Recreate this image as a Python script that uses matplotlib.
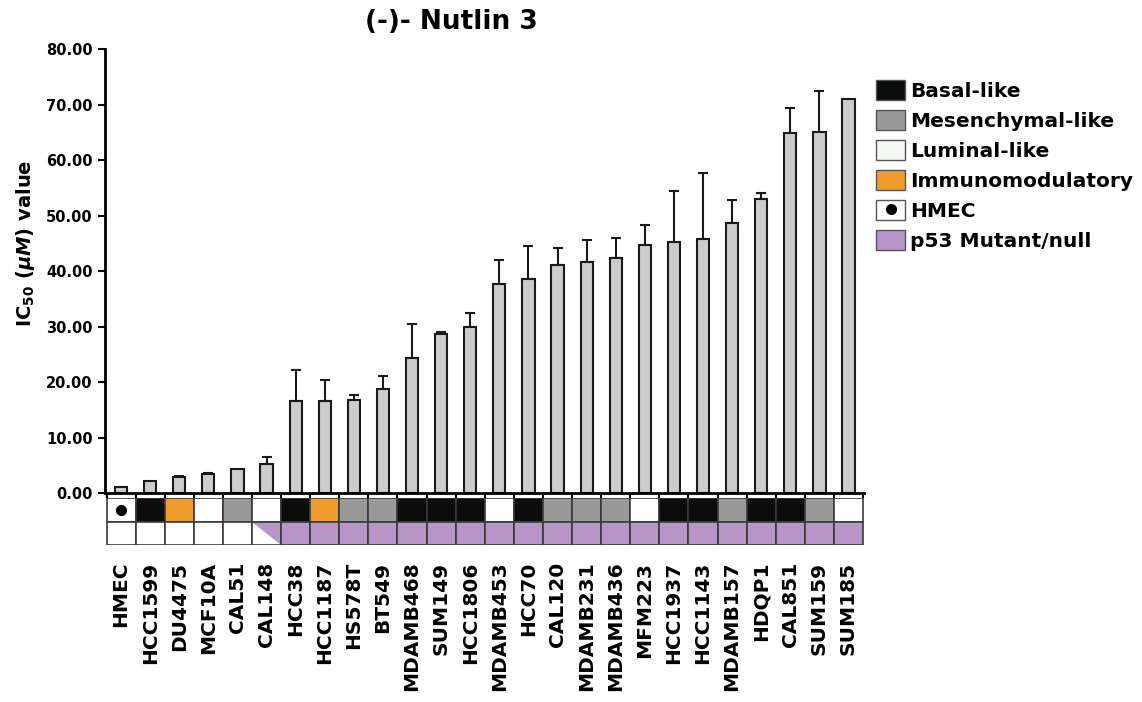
import matplotlib
matplotlib.use("Agg")
import matplotlib.pyplot as plt
import numpy as np
from matplotlib.patches import Rectangle, Polygon, Patch
from matplotlib.lines import Line2D
from matplotlib.legend_handler import HandlerTuple

plt.rcParams["font.family"] = "DejaVu Sans"
plt.rcParams["font.weight"] = "bold"
plt.rcParams["mathtext.fontset"] = "custom"
plt.rcParams["mathtext.rm"] = "DejaVu Sans:bold"
plt.rcParams["mathtext.it"] = "DejaVu Sans:bold:italic"
plt.rcParams["mathtext.bf"] = "DejaVu Sans:bold"

# cell lines, IC50 values and upper error
cell_lines = ["HMEC", "HCC1599", "DU4475", "MCF10A", "CAL51", "CAL148", "HCC38",
              "HCC1187", "HS578T", "BT549", "MDAMB468", "SUM149", "HCC1806",
              "MDAMB453", "HCC70", "CAL120", "MDAMB231", "MDAMB436", "MFM223",
              "HCC1937", "HCC1143", "MDAMB157", "HDQP1", "CAL851", "SUM159", "SUM185"]
ic50 = [1.0, 2.1, 2.8, 3.4, 4.3, 5.2, 16.5, 16.5, 16.7, 18.8, 24.3, 28.7, 29.9,
        37.7, 38.6, 41.1, 41.7, 42.3, 44.6, 45.3, 45.8, 48.6, 52.9, 64.8, 65.0, 71.0]
ic50_err = [0.0, 0.0, 0.2, 0.2, 0.0, 1.2, 5.6, 3.8, 1.0, 2.3, 6.2, 0.4, 2.6,
            4.3, 5.9, 3.1, 3.9, 3.7, 3.6, 9.2, 11.8, 4.2, 1.1, 4.5, 7.5, 0.0]

# subtype row (H=HMEC, B=basal, M=mesenchymal, L=luminal, I=immunomodulatory)
subtype = ["H", "B", "I", "L", "M", "L", "B", "I", "M", "M", "B", "B", "B",
           "L", "B", "M", "M", "M", "L", "B", "B", "M", "B", "B", "M", "L"]
# p53 row (w=wild type, h=heterogeneous, p=mutant/null)
p53 = ["w", "w", "w", "w", "w", "h"] + ["p"] * 20

colors = {"B": "#0b0d0d", "M": "#999999", "L": "#ffffff", "I": "#f09c2c",
          "H": "#ffffff", "p": "#b895c8", "w": "#ffffff"}
edge = "#3a3a3a"

fig = plt.figure(figsize=(11.42, 7.02), dpi=100)
ax = fig.add_axes([0.092, 0.2977, 0.665, 0.6325])
x = np.arange(len(cell_lines))

ax.bar(x, ic50, width=0.42, color="#cccccc", edgecolor="#1a1a1a", linewidth=1.5, zorder=2)
err = np.array(ic50_err)
mask = err > 0
ax.errorbar(x[mask], np.array(ic50)[mask], yerr=[np.zeros(mask.sum()), err[mask]],
            fmt="none", ecolor="#1a1a1a", elinewidth=1.5, capsize=3.5, capthick=1.5, zorder=1)

ax.set_xlim(-0.55, 25.55)
ax.set_ylim(0, 80)
ax.set_yticks(np.arange(0, 81, 10))
ax.set_yticklabels(["%.2f" % v for v in np.arange(0, 81, 10)], fontsize=10.5, fontweight="bold")
ax.set_xticks(np.arange(-0.5, 26, 1))
ax.set_xticklabels([])
ax.tick_params(axis="y", direction="out", length=5, width=1.5, pad=4)
ax.tick_params(axis="x", direction="out", length=4, width=1.5)
for s in ["top", "right"]:
    ax.spines[s].set_visible(False)
ax.spines["left"].set_linewidth(2)
ax.spines["bottom"].set_linewidth(2)
ax.set_ylabel(r"IC$_{50}$ ($\mathit{\mu M}$) value", fontsize=14, fontweight="bold")
ax.yaxis.set_label_coords(-0.09, 0.563)
fig.text(0.395, 0.968, "(-)- Nutlin 3", fontsize=19, fontweight="bold",
         ha="center", va="center")

# annotation table under the bars
ax2 = fig.add_axes([0.092, 0.2236, 0.665, 0.067])
ax2.set_xlim(-0.55, 25.55)
ax2.set_ylim(0, 2)
for i in range(len(cell_lines)):
    ax2.add_patch(Rectangle((i - 0.5, 1), 1, 1, facecolor=colors[subtype[i]],
                            edgecolor=edge, linewidth=1.2))
    if subtype[i] == "H":
        ax2.plot(i, 1.5, "o", color="black", markersize=7)
    if p53[i] == "h":
        ax2.add_patch(Rectangle((i - 0.5, 0), 1, 1, facecolor="white", edgecolor="none"))
        ax2.add_patch(Polygon([(i - 0.5, 1), (i + 0.5, 1), (i + 0.5, 0)],
                              facecolor=colors["p"], edgecolor="none"))
        ax2.add_patch(Rectangle((i - 0.5, 0), 1, 1, facecolor="none",
                                edgecolor=edge, linewidth=1.2))
    else:
        ax2.add_patch(Rectangle((i - 0.5, 0), 1, 1, facecolor=colors[p53[i]],
                                edgecolor=edge, linewidth=1.2))
ax2.set_xticks(x)
ax2.set_xticklabels(cell_lines, rotation=90, fontsize=14.5, fontweight="bold")
ax2.tick_params(axis="x", length=0, pad=12)
ax2.set_yticks([])
for s in ax2.spines.values():
    s.set_visible(False)

# legend
handles = [Patch(facecolor=colors["B"], edgecolor="#555555"),
           Patch(facecolor=colors["M"], edgecolor="#555555"),
           Patch(facecolor="#f5f7f5", edgecolor="#555555"),
           Patch(facecolor=colors["I"], edgecolor="#555555"),
           (Patch(facecolor="white", edgecolor="#555555"),
            Line2D([], [], marker="o", color="black", linestyle="none", markersize=7)),
           Patch(facecolor=colors["p"], edgecolor="#555555")]
labels = ["Basal-like", "Mesenchymal-like", "Luminal-like", "Immunomodulatory",
          "HMEC", "p53 Mutant/null"]
fig.legend(handles, labels, loc="upper left", bbox_to_anchor=(0.760, 0.897),
           frameon=False, fontsize=14.5, handlelength=1.45, handleheight=1.1,
           handletextpad=0.25, labelspacing=0.47, borderaxespad=0,
           handler_map={tuple: HandlerTuple(ndivide=1, pad=0)})

fig.savefig("out.png", dpi=100)
